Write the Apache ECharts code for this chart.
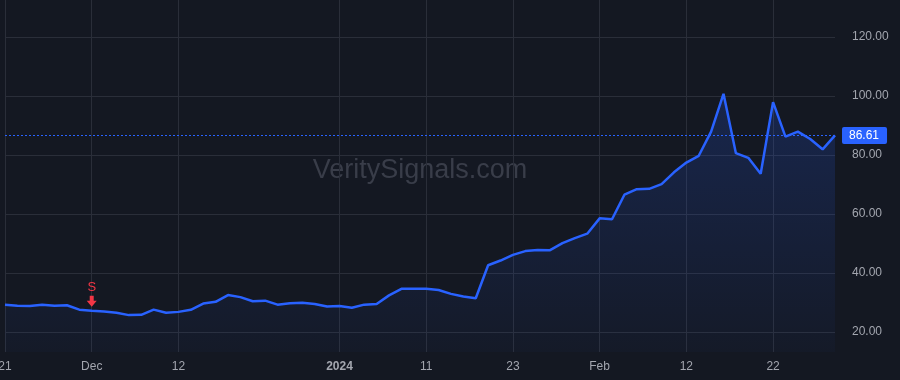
<!DOCTYPE html>
<html>
<head>
<meta charset="utf-8">
<script src="https://cdn.jsdelivr.net/npm/echarts@6/dist/echarts.min.js"></script>
<style>
  html, body { margin: 0; padding: 0; background: #141822; }
  #chart { width: 900px; height: 380px; }
</style>
</head>
<body>
<div id="chart"></div>
<script>
// trading days, Nov 21 2023 .. Feb 29 2024
const dates = [
  '2023-11-21', '2023-11-22', '2023-11-24', '2023-11-27', '2023-11-28', '2023-11-29', '2023-11-30',
  '2023-12-01', '2023-12-04', '2023-12-05', '2023-12-06', '2023-12-07', '2023-12-08', '2023-12-11',
  '2023-12-12', '2023-12-13', '2023-12-14', '2023-12-15', '2023-12-18', '2023-12-19', '2023-12-20',
  '2023-12-21', '2023-12-22', '2023-12-26', '2023-12-27', '2023-12-28', '2023-12-29', '2024-01-02',
  '2024-01-03', '2024-01-04', '2024-01-05', '2024-01-08', '2024-01-09', '2024-01-10', '2024-01-11',
  '2024-01-12', '2024-01-16', '2024-01-17', '2024-01-18', '2024-01-19', '2024-01-22', '2024-01-23',
  '2024-01-24', '2024-01-25', '2024-01-26', '2024-01-29', '2024-01-30', '2024-01-31', '2024-02-01',
  '2024-02-02', '2024-02-05', '2024-02-06', '2024-02-07', '2024-02-08', '2024-02-09', '2024-02-12',
  '2024-02-13', '2024-02-14', '2024-02-15', '2024-02-16', '2024-02-20', '2024-02-21', '2024-02-22',
  '2024-02-23', '2024-02-26', '2024-02-27', '2024-02-28', '2024-02-29'
];

const prices = [
  29.25, 28.9, 28.8, 29.25, 28.9, 29.05, 27.55,
  27.2, 26.9, 26.5, 25.7, 25.8, 27.55, 26.5,
  26.8, 27.5, 29.6, 30.2, 32.5, 31.8, 30.4,
  30.6, 29.25, 29.7, 29.9, 29.5, 28.6, 28.8,
  28.2, 29.25, 29.5, 32.4, 34.6, 34.6, 34.6,
  34.2, 32.9, 32.0, 31.4, 42.6, 44.2, 46.1,
  47.4, 47.8, 47.7, 50.1, 51.8, 53.3, 58.5,
  58.2, 66.5, 68.4, 68.5, 70.1, 74.1, 77.4,
  79.7, 87.9, 100.7, 80.6, 79.0, 73.6, 97.9,
  86.2, 87.9, 85.4, 81.9, 86.61
];

// x tick positions (index into dates) and their labels
const tickIdx = [0, 7, 14, 27, 34, 41, 48, 55, 62];
const tickText = ['21', 'Dec', '12', '2024', '11', '23', 'Feb', '12', '22'];

// sell signal
const signalIdx = 7;
const signalText = 'S';

const lastPrice = prices[prices.length - 1];

const isTick = (i, v) => tickIdx.includes(dates.indexOf(v));

const chart = echarts.init(document.getElementById('chart'));

const option = {
  backgroundColor: '#141822',
  animation: false,
  textStyle: { fontFamily: 'Liberation Sans, Arial, sans-serif' },
  grid: { left: 5, right: 65, top: 0, bottom: 28, outerBoundsMode: 'none', containLabel: false },
  graphic: [{
    type: 'text',
    x: 420,
    y: 171,
    z: 0,
    silent: true,
    style: {
      text: 'VeritySignals.com',
      align: 'center',
      verticalAlign: 'middle',
      font: '27px "Liberation Sans", Arial, sans-serif',
      fill: '#393d49'
    }
  }],
  xAxis: {
    type: 'category',
    data: dates,
    boundaryGap: false,
    axisLine: { show: false },
    axisTick: { show: false, interval: isTick },
    axisLabel: {
      color: '#a3a6af',
      fontSize: 12,
      margin: 9,
      interval: isTick,
      formatter: (val) => {
        const k = tickIdx.indexOf(dates.indexOf(val));
        if (k < 0) return '';
        return tickText[k] === '2024' ? '{b|2024}' : tickText[k];
      },
      rich: { b: { fontWeight: 'bold', fontSize: 12, color: '#a3a6af' } }
    },
    splitLine: {
      show: true,
      interval: isTick,
      lineStyle: { color: '#2a2e39', width: 1 }
    }
  },
  yAxis: {
    type: 'value',
    position: 'right',
    min: 13.2,
    max: 132.5,
    splitNumber: 5,
    minInterval: 20,
    maxInterval: 20,
    axisLine: { show: false },
    axisTick: { show: false },
    axisLabel: {
      color: '#a3a6af',
      fontSize: 12,
      margin: 17,
      showMinLabel: false,
      showMaxLabel: false,
      formatter: (v) => v.toFixed(2)
    },
    splitLine: {
      show: true,
      showMinLine: false,
      showMaxLine: false,
      lineStyle: { color: '#2a2e39', width: 1 }
    }
  },
  series: [{
    type: 'line',
    data: prices,
    symbol: 'none',
    lineStyle: { color: '#2962ff', width: 2.5 },
    areaStyle: {
      color: new echarts.graphic.LinearGradient(0, 0, 0, 1, [
        { offset: 0, color: 'rgba(41, 98, 255, 0.28)' },
        { offset: 1, color: 'rgba(41, 98, 255, 0.04)' }
      ])
    },
    markLine: {
      silent: true,
      symbol: 'none',
      lineStyle: { color: '#2962ff', type: [2, 2], width: 1 },
      label: {
        show: true,
        position: 'end',
        distance: 7,
        formatter: () => lastPrice.toFixed(2),
        color: '#ffffff',
        fontSize: 12,
        lineHeight: 12,
        backgroundColor: '#2962ff',
        padding: [3, 8, 2, 7],
        borderRadius: 2
      },
      data: [{ yAxis: lastPrice }]
    },
    markPoint: {
      silent: true,
      symbol: 'path://M3,0 L7,0 L7,5 L10,5 L5,11 L0,5 L3,5 Z',
      symbolSize: [10, 11],
      symbolOffset: [0, -9.5],
      itemStyle: { color: '#f23645' },
      label: {
        show: true,
        position: 'top',
        distance: 2,
        color: '#f23645',
        fontSize: 13,
        formatter: signalText
      },
      data: [{ coord: [signalIdx, prices[signalIdx]] }]
    }
  }]
};

chart.setOption(option);
</script>
</body>
</html>
